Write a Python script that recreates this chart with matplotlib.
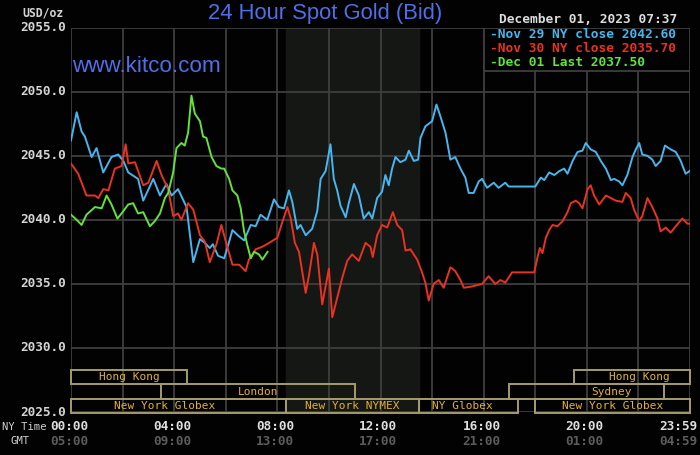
import matplotlib
matplotlib.use("Agg")
import matplotlib.pyplot as plt
from matplotlib.patches import Rectangle
import matplotlib.transforms as mtrans

# ---------------- data ----------------
blue_h = [0.0, 0.22, 0.41, 0.54, 0.8, 0.99, 1.25, 1.57, 1.83, 2.03, 2.22, 2.6, 2.8, 3.19, 3.45, 3.7, 3.9,
          4.15, 4.48, 4.74, 5.0, 5.19, 5.38, 5.5, 5.7, 5.94, 6.06, 6.26, 6.52, 6.71, 6.97, 7.16, 7.35,
          7.61, 7.87, 8.06, 8.26, 8.45, 8.58, 8.77, 8.9, 9.1, 9.35, 9.55, 9.68, 9.87, 10.06, 10.19,
          10.32, 10.45, 10.65, 10.77, 10.97, 11.16, 11.35, 11.55, 11.68, 11.87, 12.06, 12.19, 12.32,
          12.45, 12.58, 12.77, 12.97, 13.1, 13.29, 13.46, 13.55, 13.74, 14.0, 14.17, 14.32, 14.52,
          14.71, 14.9, 15.1, 15.29, 15.42, 15.61, 15.81, 15.94, 16.13, 16.39, 16.58, 16.84, 16.97,
          18.0, 18.22, 18.35, 18.54, 18.74, 18.93, 19.12, 19.25, 19.45, 19.64, 19.83, 19.96, 20.15,
          20.35, 20.54, 20.74, 20.93, 21.06, 21.25, 21.38, 21.57, 21.77, 21.9, 22.03, 22.15, 22.35,
          22.54, 22.67, 22.86, 23.03, 23.25, 23.45, 23.64, 23.83, 23.98]
blue_v = [2046.2, 2048.4, 2046.9, 2046.5, 2044.9, 2045.6, 2043.7, 2044.9, 2045.1, 2044.6, 2043.7, 2043.2,
          2041.5, 2043.2, 2041.9, 2042.8, 2041.9, 2042.4, 2041.0, 2036.7, 2038.5, 2038.2, 2037.8,
          2038.1, 2037.2, 2037.0, 2037.8, 2039.2, 2038.7, 2038.4, 2039.6, 2039.5, 2040.4, 2040.0,
          2041.6, 2041.0, 2040.9, 2042.3, 2041.4, 2039.3, 2039.6, 2038.8, 2039.3, 2040.7, 2043.2,
          2043.8, 2045.9, 2043.2, 2042.3, 2041.1, 2040.2, 2041.3, 2042.8, 2041.9, 2040.1, 2040.6,
          2040.1, 2041.7, 2042.2, 2043.5, 2042.7, 2044.0, 2044.9, 2044.5, 2044.7, 2045.4, 2044.6,
          2044.7, 2046.4, 2047.3, 2047.7, 2049.0, 2048.1, 2046.8, 2044.7, 2044.9, 2044.0, 2043.3,
          2042.1, 2042.1, 2043.0, 2043.2, 2042.5, 2042.9, 2042.5, 2042.9, 2042.6, 2042.6, 2043.3,
          2043.1, 2043.7, 2043.5, 2043.8, 2044.0, 2043.6, 2044.6, 2045.3, 2045.4, 2046.0, 2045.5,
          2045.3, 2044.6, 2044.0, 2043.1, 2043.2, 2043.0, 2042.7, 2043.5, 2044.9, 2045.5, 2046.0,
          2045.1, 2045.0, 2044.7, 2044.2, 2044.6, 2045.8, 2045.5, 2045.3, 2044.6, 2043.6, 2043.8]

red_h = [0.0, 0.28, 0.6, 0.93, 1.06, 1.25, 1.45, 1.7, 1.96, 2.12, 2.22, 2.48, 2.8, 3.0, 3.32, 3.51, 3.77,
         3.96, 4.15, 4.28, 4.54, 4.74, 5.0, 5.19, 5.38, 5.64, 5.83, 6.03, 6.26, 6.52, 6.77, 6.9, 7.16,
         7.42, 7.68, 8.0, 8.19, 8.39, 8.52, 8.68, 8.84, 8.97, 9.1, 9.23, 9.42, 9.55, 9.74, 10.0, 10.13,
         10.32, 10.52, 10.71, 10.9, 11.16, 11.42, 11.61, 11.7, 11.87, 12.06, 12.26, 12.48, 12.65,
         12.84, 12.97, 13.16, 13.42, 13.61, 13.74, 13.87, 14.06, 14.26, 14.45, 14.71, 14.9, 15.1,
         15.23, 15.55, 15.94, 16.19, 16.45, 16.65, 16.84, 17.1, 17.96, 18.09, 18.18, 18.28, 18.41,
         18.54, 18.67, 18.86, 19.06, 19.25, 19.38, 19.57, 19.7, 19.83, 20.03, 20.15, 20.28, 20.48,
         20.74, 20.93, 21.12, 21.38, 21.51, 21.7, 21.83, 22.03, 22.15, 22.35, 22.54, 22.74, 22.86,
         23.06, 23.25, 23.45, 23.7, 23.9, 23.98]
red_v = [2044.4, 2043.6, 2041.9, 2041.9, 2041.7, 2042.4, 2042.3, 2044.0, 2044.2, 2045.9, 2044.4, 2044.5,
         2042.7, 2042.9, 2044.6, 2043.5, 2042.4, 2040.3, 2040.5, 2040.0, 2041.3, 2040.8, 2038.8,
         2038.3, 2036.7, 2038.1, 2039.6, 2038.1, 2036.5, 2036.5, 2036.0, 2036.9, 2037.7, 2037.9,
         2038.2, 2038.6, 2039.8, 2041.0, 2040.1, 2038.2, 2037.5, 2035.9, 2034.3, 2035.7, 2038.2,
         2037.3, 2033.4, 2036.2, 2032.4, 2033.9, 2035.5, 2036.8, 2037.3, 2036.8, 2038.2, 2037.9,
         2037.1, 2038.8, 2039.6, 2039.4, 2040.6, 2039.6, 2039.2, 2037.6, 2037.7, 2036.9, 2035.9,
         2035.1, 2033.7, 2035.0, 2035.3, 2034.7, 2036.3, 2036.0, 2035.3, 2034.7, 2034.8, 2035.0,
         2035.6, 2035.0, 2035.3, 2035.1, 2035.9, 2035.9, 2037.1, 2037.8, 2037.4, 2038.6, 2039.2,
         2039.6, 2039.5, 2039.9, 2040.6, 2041.3, 2041.5, 2041.3, 2040.9, 2042.4, 2042.7, 2041.9,
         2041.2, 2041.9, 2041.7, 2041.5, 2041.4, 2042.1, 2041.7, 2040.8, 2039.9, 2040.3, 2041.7,
         2041.0, 2040.1, 2039.1, 2039.4, 2039.0, 2039.5, 2040.1, 2039.7, 2039.7]

green_h = [0.0, 0.22, 0.41, 0.6, 0.93, 1.19, 1.38, 1.57, 1.8, 1.96, 2.22, 2.41, 2.6, 2.8, 3.06, 3.25,
           3.45, 3.64, 3.77, 3.96, 4.09, 4.28, 4.41, 4.54, 4.67, 4.8, 5.0, 5.12, 5.25, 5.45, 5.64,
           5.83, 5.94, 6.13, 6.26, 6.45, 6.58, 6.71, 6.84, 6.97, 7.1, 7.29, 7.42, 7.62]
green_v = [2040.4, 2040.0, 2039.6, 2040.4, 2041.0, 2040.9, 2041.9, 2041.2, 2040.1, 2040.5, 2041.2,
           2041.3, 2040.5, 2040.6, 2039.5, 2039.9, 2040.5, 2041.7, 2042.1, 2043.7, 2045.6, 2046.0,
           2045.8, 2046.8, 2049.7, 2048.3, 2047.7, 2046.5, 2046.4, 2044.9, 2044.2, 2044.0, 2044.0,
           2043.2, 2042.3, 2041.9, 2040.9, 2039.1, 2038.0, 2037.0, 2037.5, 2037.3, 2036.9, 2037.5]

legend_labels = ["Nov 29 NY close 2042.60", "Nov 30 NY close 2035.70", "Dec 01 Last 2037.50"]
y_ticks = [2025, 2030, 2035, 2040, 2045, 2050, 2055]
x_ticks = [0, 4, 8, 12, 16, 20, 23.98]
ny_labels = ["00:00", "04:00", "08:00", "12:00", "16:00", "20:00", "23:59"]
gmt_labels = ["05:00", "09:00", "13:00", "17:00", "21:00", "01:00", "04:59"]

# sessions: (name, start hour, end hour, row)  row 0 = top
sessions = [("Hong Kong", 0.0, 4.5, 0), ("London", 3.5, 11.0, 1), ("New York Globex", 0.0, 8.33, 2),
            ("New York NYMEX", 8.33, 13.5, 2), ("NY Globex", 13.5, 17.35, 2),
            ("Hong Kong", 19.5, 24.0, 0), ("Sydney", 17.0, 23.0, 1), ("New York Globex", 18.0, 24.0, 2)]
nymex_span = (8.33, 13.5)

# ---------------- style ----------------
BG = "#020202"
GRID = "#3e3e3e"
BLUE = "#48b6ee"
RED = "#e83222"
GREEN = "#62e23a"
MONO = "DejaVu Sans Mono"

fig = plt.figure(figsize=(7.0, 4.55), dpi=100, facecolor=BG)
ax = fig.add_axes([71 / 700, 1 - 412 / 455, 619 / 700, (412 - 27.7) / 455])
ax.set_facecolor(BG)
ax.set_xlim(0, 24)
ax.set_ylim(2025, 2055)

ax.axvspan(*nymex_span, color="#141714", zorder=0)
for y in y_ticks:
    ax.axhline(y, color=GRID, lw=1.3, zorder=1)
for h in range(0, 25, 2):
    ax.axvline(h, color=GRID, lw=1.3, zorder=1)
for s in ax.spines.values():
    s.set_visible(False)
ax.set_xticks([])
ax.set_yticks([])

ax.plot(blue_h, blue_v, color=BLUE, lw=1.4, zorder=4)
ax.plot(red_h, red_v, color=RED, lw=1.4, zorder=4)
ax.plot(green_h, green_v, color=GREEN, lw=1.4, zorder=5)

# session boxes
row_top = [2028.25, 2027.15, 2026.05]
row_height = 1.1
label_shift = {("New York Globex", 0.0): -0.55, ("Sydney", 17.0): 0.95, ("Hong Kong", 19.5): 0.3,
               ("NY Globex", 13.5): -0.25}
for name, a, b, r in sessions:
    ax.add_patch(Rectangle((a, row_top[r] - row_height), b - a, row_height, fill=False,
                           edgecolor="#a49c6a", lw=1.4, zorder=3, clip_on=False))
    cx = (a + b) / 2 + label_shift.get((name, a), 0)
    ax.text(cx, row_top[r] - row_height / 2, name, color="#e2b232", fontsize=8, family=MONO,
            ha="center", va="center", zorder=6)

# legend box
ax.add_patch(Rectangle((16.0, 2051.6), 8.0, 3.4, facecolor=BG, edgecolor=GRID, lw=1.3, zorder=7))
for i, (lab, col) in enumerate(zip(legend_labels, [BLUE, RED, GREEN])):
    ax.text(16.25, 2054.45 - i * 1.1, "-" + lab, color=col, fontsize=9.3, family=MONO,
            fontweight="bold", ha="left", va="center", zorder=8)

# y labels
for y in y_ticks:
    ax.text(-0.2, y, f"{y:.1f}", color="#d4d4d4", fontsize=9.2, family=MONO, fontweight="bold",
            ha="right", va="center", transform=ax.transData, clip_on=False)

# x labels
trans = mtrans.blended_transform_factory(ax.transData, fig.transFigure)
for xt, ny, gm in zip(x_ticks, ny_labels, gmt_labels):
    if xt > 23:
        ax.text(xt + 0.3, 1 - 426.5 / 455, ny, color="#dedede", fontsize=9.2, family=MONO,
                fontweight="bold", ha="right", va="center", transform=trans)
        ax.text(xt + 0.3, 1 - 441.5 / 455, gm, color="#5c5c5c", fontsize=9.2, family=MONO,
                fontweight="bold", ha="right", va="center", transform=trans)
    else:
        ax.text(xt - 0.08, 1 - 426.5 / 455, ny, color="#dedede", fontsize=9.2, family=MONO,
                fontweight="bold", ha="center", va="center", transform=trans)
        ax.text(xt - 0.08, 1 - 441.5 / 455, gm, color="#5c5c5c", fontsize=9.2, family=MONO,
                fontweight="bold", ha="center", va="center", transform=trans)

fig.text(47 / 700, 1 - 426.5 / 455, "NY Time", color="#cfcfcf", fontsize=7.6, family=MONO,
         ha="right", va="center")
fig.text(20 / 700, 1 - 441.5 / 455, "GMT", color="#cfcfcf", fontsize=7.6, family=MONO,
         ha="center", va="center")
fig.text(43 / 700, 1 - 12.5 / 455, "USD/oz", color="#d4d4d4", fontsize=8.3, family=MONO,
         fontweight="bold", ha="center", va="center")

fig.text(325.5 / 700, 1 - 14 / 455, "24 Hour Spot Gold (Bid)", color="#4f6fe8", fontsize=15.8,
         family="Liberation Sans", ha="center", va="center")
fig.text(588 / 700, 1 - 19.5 / 455, "December 01, 2023 07:37", color="#dcdcdc", fontsize=9.3,
         family=MONO, fontweight="bold", ha="center", va="center")
ax.text(0.04, 2052.0, "www.kitco.com", color="#4f6fe8", fontsize=16.2, family="Liberation Sans",
        ha="left", va="center", zorder=6)

fig.savefig("out.png", dpi=100, facecolor=BG)
